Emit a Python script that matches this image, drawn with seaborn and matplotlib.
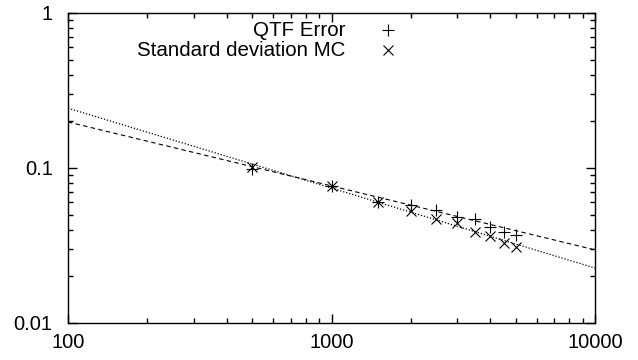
import matplotlib
matplotlib.use("Agg")
import matplotlib.pyplot as plt
import seaborn as sns
import pandas as pd
from matplotlib.ticker import LogLocator, FixedLocator, NullFormatter, FixedFormatter

sns.set_theme(style="white")
plt.rcParams['font.family'] = ['Liberation Sans', 'DejaVu Sans']

# data
n_samples = [500, 1000, 1500, 2000, 2500, 3000, 3500, 4000, 4500, 5000]
qtf_error = [0.0985, 0.076, 0.0606, 0.0577, 0.0536, 0.0481, 0.0467, 0.0418, 0.0388, 0.0370]
mc_std = [0.101, 0.076, 0.0606, 0.053, 0.0467, 0.0440, 0.0388, 0.0364, 0.033, 0.0308]
fit_x = [100, 10000]
qtf_fit = [0.198, 0.0296]
mc_fit = [0.243, 0.0226]
x_ticks = [100, 1000, 10000]
x_labels = ["100", "1000", "10000"]
y_ticks = [0.01, 0.1, 1]
y_labels = ["0.01", "0.1", "1"]
legend_labels = ["QTF Error", "Standard deviation MC"]

pts = pd.DataFrame({"n": n_samples, "qtf": qtf_error, "mc": mc_std})
fits = pd.DataFrame({"n": fit_x, "qtf": qtf_fit, "mc": mc_fit})

fig = plt.figure(figsize=(6.38, 3.6), dpi=100)
ax = fig.add_axes([0.1066, 0.103, 0.826, 0.861])

sns.lineplot(data=fits, x="n", y="qtf", ax=ax, color="black", lw=0.8,
             linestyle=(0, (4, 3)))
sns.lineplot(data=fits, x="n", y="mc", ax=ax, color="black", lw=0.9,
             linestyle=(0, (1, 1.5)))
ax.plot(pts["n"], pts["qtf"], linestyle="none", marker="+", color="black",
        markersize=8.5, markeredgewidth=0.8)
ax.plot(pts["n"], pts["mc"], linestyle="none", marker="x", color="black",
        markersize=7, markeredgewidth=0.8)

ax.set_xscale("log")
ax.set_yscale("log")
ax.set_xlim(100, 10000)
ax.set_ylim(0.01, 1)

ax.xaxis.set_major_locator(FixedLocator(x_ticks))
ax.xaxis.set_major_formatter(FixedFormatter(x_labels))
ax.yaxis.set_major_locator(FixedLocator(y_ticks))
ax.yaxis.set_major_formatter(FixedFormatter(y_labels))
ax.xaxis.set_minor_locator(LogLocator(base=10, subs=range(2, 10)))
ax.yaxis.set_minor_locator(LogLocator(base=10, subs=range(2, 10)))
ax.xaxis.set_minor_formatter(NullFormatter())
ax.yaxis.set_minor_formatter(NullFormatter())

ax.tick_params(which="both", direction="in", top=True, right=True,
               bottom=True, left=True, color="black", width=1.0)
ax.tick_params(which="major", length=6.5, labelsize=14.5, labelcolor="black")
ax.tick_params(which="minor", length=3.6)
ax.tick_params(axis="y", which="major", pad=11)
ax.tick_params(axis="x", which="major", pad=7)
for s in ax.spines.values():
    s.set_color("black")
    s.set_linewidth(1.0)
ax.set_xlabel("")
ax.set_ylabel("")
ax.grid(False)

# gnuplot-style key: right-aligned text, sample to the right
key_y = [0.944, 0.880]
markers = [("+", 8.5), ("x", 7)]
for lab, yy, (m, ms) in zip(legend_labels, key_y, markers):
    ax.text(0.526, yy, lab, transform=ax.transAxes, ha="right", va="center",
            fontsize=14.8, color="black")
    ax.plot([0.607], [yy], transform=ax.transAxes, marker=m, color="black",
            markersize=ms, markeredgewidth=0.8, linestyle="none")

fig.savefig("out.png", dpi=100)
